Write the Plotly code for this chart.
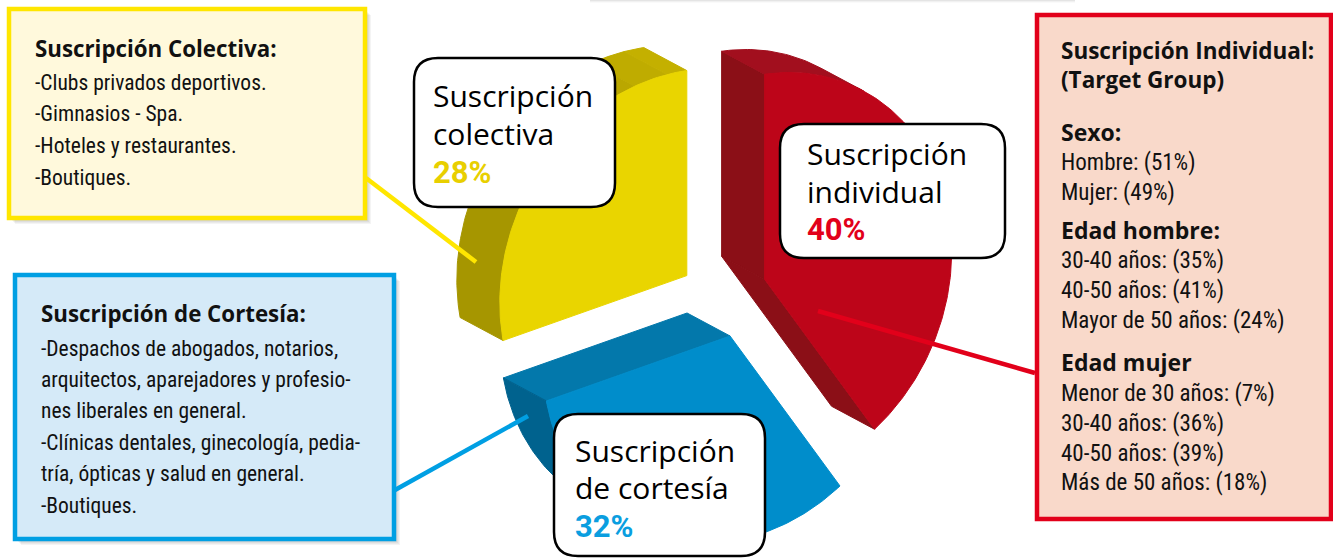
import math
import plotly.graph_objects as go

# ---------------- data ----------------
slice_labels = ["Suscripción individual", "Suscripción de cortesía", "Suscripción colectiva"]
slice_values = [40, 32, 28]

colectiva_title = "Suscripción Colectiva:"
colectiva_items = ["-Clubs privados deportivos.", "-Gimnasios - Spa.",
                   "-Hoteles y restaurantes.", "-Boutiques."]

cortesia_title = "Suscripción de Cortesía:"
cortesia_items = ["-Despachos de abogados, notarios,",
                  "arquitectos, aparejadores y profesio-",
                  "nes liberales en general.",
                  "-Clínicas dentales, ginecología, pedia-",
                  "tría, ópticas y salud en general.",
                  "-Boutiques."]

individual_title = ["Suscripción Individual:", "(Target Group)"]
sexo_labels = ["Hombre", "Mujer"]
sexo_values = [51, 49]
edad_hombre_labels = ["30-40 años", "40-50 años", "Mayor de 50 años"]
edad_hombre_values = [35, 41, 24]
edad_mujer_labels = ["Menor de 30 años", "30-40 años", "40-50 años", "Más de 50 años"]
edad_mujer_values = [7, 36, 39, 18]

# ---------------- style ----------------
W, H = 1333, 558
FRONT = ["#bd0519", "#008dcb", "#e9d500"]
TOP = ["#a20f1e", "#047cb1", "#c4b000"]
LEFT = ["#8b0f17", "#00628e", "#a69600"]
ACCENT = ["#e2001a", "#0a9ee0", "#e8cf00"]
CENTER = (731, 299)
RX, SHEAR, RY = 187, 27, 205
PULL = [39, 37, 50]
PULL_TURN = [4, 20, 8]
DEPTH = (-43, -23)

BODY_FONT = "Liberation Sans Narrow, Roboto Condensed, Arial Narrow, sans-serif"
BOLD_FONT = "Open Sans, Noto Sans, sans-serif"
BIG_FONT = "Open Sans, Noto Sans, sans-serif"
PCT_FONT = "Roboto, Liberation Sans, sans-serif"


def ell(theta_deg):
    t = math.radians(theta_deg)
    return (RX * math.cos(t), -(SHEAR * math.cos(t) + RY * math.sin(t)))


def hex2rgb(h):
    h = h.lstrip("#")
    return [int(h[i:i + 2], 16) for i in (0, 2, 4)]


def lerp_col(c1, c2, t):
    a, b = hex2rgb(c1), hex2rgb(c2)
    return "rgb(%d,%d,%d)" % tuple(round(a[i] + (b[i] - a[i]) * t) for i in range(3))


def shade(n, i):
    phi = math.degrees(math.atan2(-n[1], n[0])) % 360
    t = min(max((phi - 100) / 60.0, 0), 1)
    t = round(t * 6) / 6
    return lerp_col(TOP[i], LEFT[i], t)


fig = go.Figure()

total = sum(slice_values)
a = 90.0
for i, v in enumerate(slice_values):
    span = v / total * 360.0
    a0, a1 = a, a - span
    a = a1
    mid = (a0 + a1) / 2
    d = ell(mid)
    pd = ell(mid + PULL_TURN[i])
    pl = math.hypot(*pd)
    apex = (CENTER[0] + PULL[i] * pd[0] / pl, CENTER[1] + PULL[i] * pd[1] / pl)
    n = max(int(span / 1.0), 4)
    thetas = [a0 + (a1 - a0) * k / n for k in range(n + 1)]
    arc = [(apex[0] + ell(t)[0], apex[1] + ell(t)[1]) for t in thetas]
    cen = (apex[0] + 0.5 * d[0], apex[1] + 0.5 * d[1])

    def normal(p, q):
        dx, dy = q[0] - p[0], q[1] - p[1]
        L = math.hypot(dx, dy) or 1
        nx, ny = dy / L, -dx / L
        m = ((p[0] + q[0]) / 2 - cen[0], (p[1] + q[1]) / 2 - cen[1])
        if nx * m[0] + ny * m[1] < 0:
            nx, ny = -nx, -ny
        return nx, ny

    def add_poly(pts, col):
        xs = [p[0] for p in pts] + [pts[0][0]]
        ys = [p[1] for p in pts] + [pts[0][1]]
        fig.add_trace(go.Scatter(x=xs, y=ys, mode="lines", fill="toself",
                                 fillcolor=col, line=dict(color=col, width=1),
                                 hoverinfo="skip", showlegend=False))

    def back(p):
        return (p[0] + DEPTH[0], p[1] + DEPTH[1])

    # radial side faces
    for p, q in [(apex, arc[0]), (arc[-1], apex)]:
        nrm = normal(p, q)
        if nrm[0] * DEPTH[0] + nrm[1] * DEPTH[1] > 0:
            add_poly([p, q, back(q), back(p)], shade(nrm, i))
    # curved side face, grouped by colour
    groups = []
    for k in range(n):
        p, q = arc[k], arc[k + 1]
        nrm = normal(p, q)
        vis = nrm[0] * DEPTH[0] + nrm[1] * DEPTH[1] > 0
        col = shade(nrm, i) if vis else None
        if groups and groups[-1][0] == col:
            groups[-1][1].append(k + 1)
        else:
            groups.append([col, [k, k + 1]])
    for col, idx in groups:
        if col is None:
            continue
        fr = [arc[j] for j in idx]
        bk = [back(arc[j]) for j in reversed(idx)]
        add_poly(fr + bk, col)
    # front face
    add_poly([apex] + arc, FRONT[i])

shapes = []
annotations = []

# faint shadow at the very top
for k, op in enumerate([0.05, 0.035, 0.02]):
    shapes.append(dict(type="rect", x0=590, x1=1075, y0=-4, y1=1 + k, fillcolor="rgba(0,0,0,%s)" % op,
                       line=dict(width=0), layer="above"))


def info_box(x0, y0, x1, y1, fill, border, shadow=True):
    if shadow:
        for k in range(1, 7):
            shapes.append(dict(type="rect", x0=x0 + k, y0=y0 + k, x1=x1 + k, y1=y1 + k,
                               fillcolor="rgba(0,0,0,0.045)", line=dict(width=0), layer="above"))
    shapes.append(dict(type="rect", x0=x0, y0=y0, x1=x1, y1=y1, fillcolor=fill,
                       line=dict(color=border, width=4.5), layer="above"))


info_box(9, 9, 365, 218, "#fff9dc", "#ffe600")
info_box(15, 275, 394, 539, "#d5eaf8", "#009fe3")
info_box(1037, 15, 1331, 519, "#f9d9ca", "#e2001a", shadow=False)

# connector lines
for (x0, y0, x1, y1, c) in [(366, 178, 476, 262, "#ffe600"),
                            (395, 490, 528, 416, "#009fe3"),
                            (818, 311, 1035, 373, "#e2001a")]:
    shapes.append(dict(type="line", x0=x0, y0=y0, x1=x1, y1=y1,
                       line=dict(color=c, width=4.5), layer="above"))


def rrect(x0, y0, x1, y1, r):
    return (f"M {x0 + r},{y0} L {x1 - r},{y0} Q {x1},{y0} {x1},{y0 + r} "
            f"L {x1},{y1 - r} Q {x1},{y1} {x1 - r},{y1} L {x0 + r},{y1} "
            f"Q {x0},{y1} {x0},{y1 - r} L {x0},{y0 + r} Q {x0},{y0} {x0 + r},{y0} Z")


label_boxes = [(780, 124, 1005, 258), (554, 414, 765, 556), (414, 58, 615, 207)]
label_text_pos = [(805, [153, 191, 229]), (573, [450, 487, 526]), (431, [95, 133, 172])]
label_lines = [["Suscripción", "individual"], ["Suscripción", "de cortesía"], ["Suscripción", "colectiva"]]
for i, (bx, tp) in enumerate(zip(label_boxes, label_text_pos)):
    shapes.append(dict(type="path", path=rrect(*bx, 24), fillcolor="white",
                       line=dict(color="black", width=2.5), layer="above"))
    x, ys = tp
    for t_, y in zip(label_lines[i], ys[:2]):
        annotations.append(dict(x=x, y=y, text=t_, showarrow=False, xanchor="left", yanchor="middle",
                                font=dict(family=BIG_FONT, size=30, color="black")))
    annotations.append(dict(x=x, y=ys[2], text="<b>%d%%</b>" % slice_values[i], showarrow=False,
                            xanchor="left", yanchor="middle",
                            font=dict(family=PCT_FONT, size=31, color=ACCENT[i])))


def txt(x, y, s, bold=False, size=None):
    annotations.append(dict(x=x - 3, y=y, text=("<b>%s</b>" % s) if bold else s, showarrow=False,
                            xanchor="left", yanchor="middle",
                            font=dict(family=BOLD_FONT if bold else BODY_FONT,
                                      size=size or (22 if bold else 23), color="#111111")))


# yellow box
txt(36, 48, colectiva_title, bold=True, size=22.3)
for s, y in zip(colectiva_items, [82, 113, 145, 177]):
    txt(36, y, s, size=21.5)
# blue box
txt(42, 313, cortesia_title, bold=True, size=22.3)
for s, y in zip(cortesia_items, [348, 379, 410, 442, 473, 505]):
    txt(42, y, s, size=21.5)
# red box
txt(1062, 50, individual_title[0], bold=True, size=22.5)
txt(1062, 79, individual_title[1], bold=True, size=22.5)
txt(1062, 132, "Sexo:", bold=True, size=23)
for l, v, y in zip(sexo_labels, sexo_values, [162, 192]):
    txt(1062, y, f"{l}: ({v}%)")
txt(1062, 230, "Edad hombre:", bold=True, size=23)
for l, v, y in zip(edad_hombre_labels, edad_hombre_values, [260, 290, 320]):
    txt(1062, y, f"{l}: ({v}%)")
txt(1062, 362, "Edad mujer", bold=True, size=23)
for l, v, y in zip(edad_mujer_labels, edad_mujer_values, [393, 423, 453, 482]):
    txt(1062, y, f"{l}: ({v}%)")

fig.update_layout(
    width=W, height=H, margin=dict(l=0, r=0, t=0, b=0),
    paper_bgcolor="white", plot_bgcolor="white",
    xaxis=dict(range=[0, W], visible=False, fixedrange=True),
    yaxis=dict(range=[H, 0], visible=False, fixedrange=True),
    shapes=shapes, annotations=annotations, showlegend=False,
)

fig.write_html("out.html", config={"displayModeBar": False},
               post_script="document.body.style.margin='0';document.body.style.overflow='hidden';")
